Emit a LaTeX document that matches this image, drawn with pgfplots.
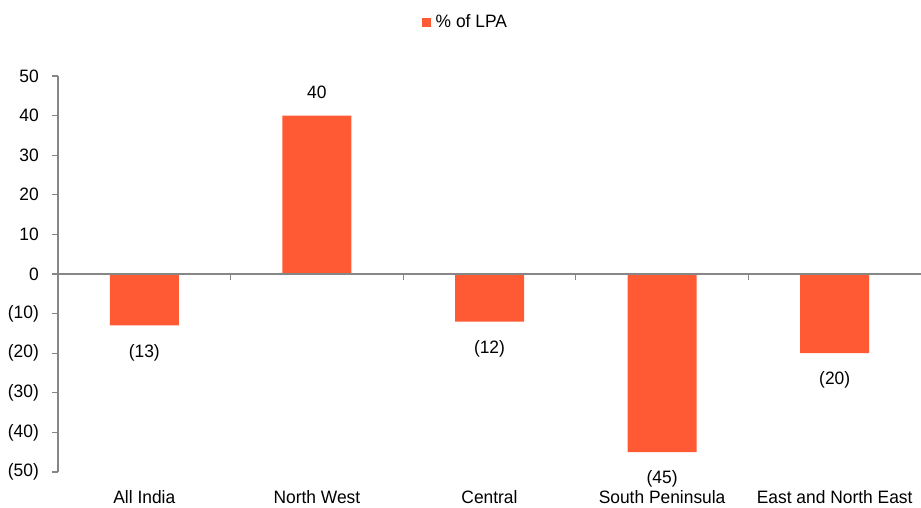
\documentclass[border=0pt]{standalone}
\usepackage{fontspec}
\setmainfont{Liberation Sans}[FakeStretch=0.97]
\usepackage{pgfplots}
\pgfplotsset{compat=1.18}
\definecolor{barc}{RGB}{255,90,51}
\definecolor{axc}{RGB}{134,134,134}
\newcommand{\fs}{\fontsize{18}{21}\selectfont}
\begin{document}
\fs
\begin{tikzpicture}
\path[use as bounding box] (-58bp,-36bp) rectangle (863bp,472bp);
\begin{axis}[
  at={(0,0)}, anchor=south west,
  scale only axis, width=863bp, height=396bp,
  xmin=-0.5, xmax=4.5, ymin=-50, ymax=50,
  axis y line*=left, axis x line*=bottom,
  x axis line style={draw=none},
  y axis line style={axc, line width=1.3bp},
  xtick={0,1,2,3,4},
  xticklabels={All India, North West, Central, South Peninsula, East and North East},
  xtick style={draw=none},
  xticklabel style={yshift=-6bp},
  ytick={-50,-40,-30,-20,-10,0,10,20,30,40,50},
  yticklabels={(50),(40),(30),(20),(10),0,10,20,30,40,50},
  yticklabel style={xshift=-7bp},
  ytick style={axc, line width=1.3bp},
  tick align=outside, major tick length=6bp,
  tick label style={font=\fs, text=black},
  /pgf/number format/assume math mode=true,
  ybar, bar width=69bp,
  legend style={at={(0.472,1.136)}, anchor=center, draw=none, fill=none, font=\fs},
  legend image code/.code={\fill[barc] (0bp,-4.5bp) rectangle (9bp,4.5bp); \path (12bp,0);},
]
\addplot[fill=barc, draw=none, bar shift=0pt]
  coordinates {(0,-13) (1,40) (2,-12) (3,-45) (4,-20)};
\addlegendentry{\% of LPA}
\addplot[draw=none, fill=none, bar shift=0pt, forget plot, nodes near coords, point meta=explicit symbolic,
  every node near coord/.style={anchor=center, yshift=23bp, font=\fs, text=black}]
  coordinates {(1,40)[40]};
\addplot[draw=none, fill=none, bar shift=0pt, forget plot, nodes near coords, point meta=explicit symbolic,
  every node near coord/.style={anchor=center, yshift=-27bp, font=\fs, text=black}]
  coordinates {(0,-13)[(13)] (2,-12)[(12)] (3,-45)[(45)] (4,-20)[(20)]};
\draw[axc, line width=1.5bp] (axis cs:-0.5,0) -- (axis cs:4.5,0);
\pgfplotsinvokeforeach{0.5,1.5,2.5,3.5}{\draw[axc, line width=1.3bp] (axis cs:#1,0) -- ([yshift=-6bp]axis cs:#1,0);}
\end{axis}
\end{tikzpicture}
\end{document}
